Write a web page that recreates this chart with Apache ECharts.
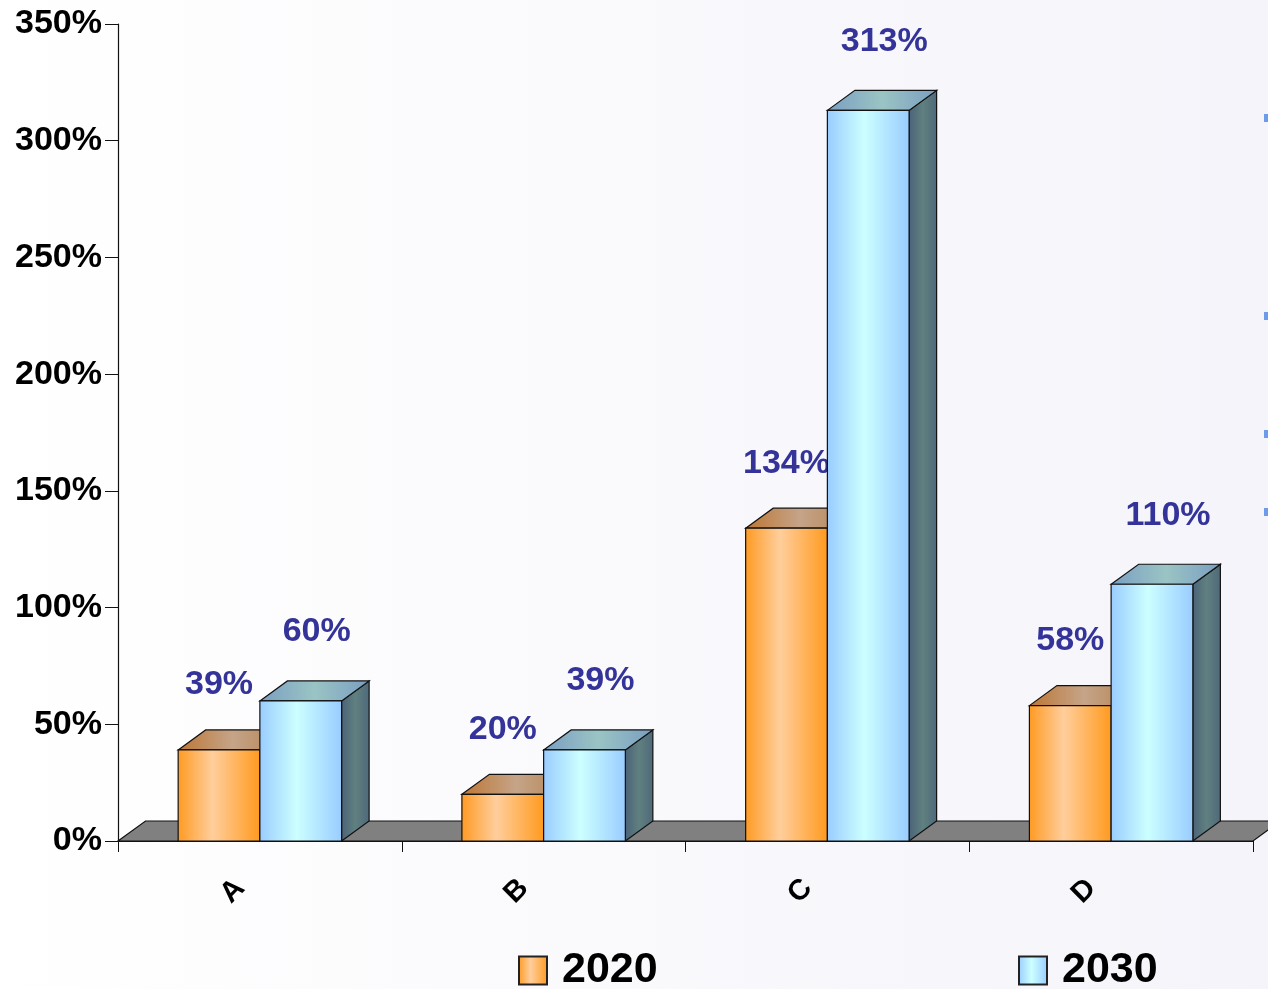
<!DOCTYPE html>
<html><head><meta charset="utf-8">
<script src="https://cdn.jsdelivr.net/npm/echarts@6/dist/echarts.min.js"></script>
<style>html,body{margin:0;padding:0;}#c{width:1268px;height:989px;}</style>
</head><body><div id="c"></div>
<script>
var categories = ['A', 'B', 'C', 'D'];
var values2020 = [39, 20, 134, 58];
var values2030 = [60, 39, 313, 110];
var seriesNames = ['2020', '2030'];
var yMin = 0, yMax = 350, yStep = 50;

var FONT = '"Liberation Sans", Arial, sans-serif';
function lg(stops) {
  return {type: 'linear', x: 0, y: 0, x2: 1, y2: 0,
    colorStops: stops.map(function (s) { return {offset: s[0], color: s[1]}; })};
}
var styles = {
  '2020': {
    front: lg([[0, '#FF9A22'], [0.42, '#FFCE9C'], [1, '#FF9A1E']]),
    top: lg([[0, '#BD7634'], [0.5, '#C5A488'], [1, '#B5814F']]),
    side: lg([[0, '#8A5A30'], [1, '#9A6A40']])
  },
  '2030': {
    front: lg([[0, '#99CCFF'], [0.45, '#CCFFFF'], [1, '#99CCFF']]),
    top: lg([[0, '#7A9EC2'], [0.5, '#9AC4C4'], [1, '#7A9EC2']]),
    side: lg([[0, '#4A6278'], [0.5, '#608080'], [1, '#4E687A']])
  }
};

function makeRender(name, left, ldx, ldy) {
  var st = styles[name];
  return function (params, api) {
    var c = api.value(0), v = api.value(1);
    var base = api.coord([c, 0]);
    var top = api.coord([c, v]);
    var band = api.size([1, 0])[0];
    var w = band * 0.288;
    var dx = band * 0.097, dy = 20;
    var x0 = left ? base[0] - w : base[0];
    var x1 = x0 + w;
    var yb = base[1], yt = top[1];
    var line = {stroke: '#111', lineWidth: 1.2};
    return {
      type: 'group',
      children: [
        {type: 'polygon', shape: {points: [[x1, yb], [x1 + dx, yb - dy], [x1 + dx, yt - dy], [x1, yt]]},
          style: Object.assign({fill: st.side}, line)},
        {type: 'polygon', shape: {points: [[x0, yt], [x0 + dx, yt - dy], [x1 + dx, yt - dy], [x1, yt]]},
          style: Object.assign({fill: st.top}, line)},
        {type: 'rect', shape: {x: x0, y: yt, width: w, height: yb - yt},
          style: Object.assign({fill: st.front}, line)},
        {type: 'text', x: (x0 + x1) / 2 + ldx, y: yt + ldy,
          style: {text: v + '%', fill: '#333399', font: 'bold 34px ' + FONT, align: 'center', verticalAlign: 'middle'}}
      ]
    };
  };
}

function floorRender(params, api) {
  var band = api.size([1, 0])[0];
  var first = api.coord([0, 0]);
  var last = api.coord([categories.length - 1, 0]);
  var xa = first[0] - band / 2, xb = last[0] + band / 2, y = first[1];
  var dx = band * 0.097, dy = 20;
  return {type: 'polygon', shape: {points: [[xa, y], [xa + dx, y - dy], [xb + dx, y - dy], [xb, y]]},
    style: {fill: '#808080', stroke: '#111', lineWidth: 1.2}};
}

var chart = echarts.init(document.getElementById('c'), null, {renderer: 'canvas'});
chart.setOption({
  animation: false,
  backgroundColor: {type: 'linear', x: 0, y: 0, x2: 1, y2: 0,
    colorStops: [{offset: 0, color: '#FFFFFF'}, {offset: 1, color: '#F4F4FA'}]},
  grid: {left: 118, right: 15, top: 24, bottom: 148, containLabel: false},
  xAxis: {
    type: 'category', data: categories, boundaryGap: true,
    axisLine: {show: true, lineStyle: {color: '#111', width: 1.2}},
    axisTick: {show: true, length: 11, lineStyle: {color: '#111'}},
    axisLabel: {rotate: 45, margin: 23, padding: [0, 28, 0, 0], color: '#000', fontSize: 29, fontWeight: 'bold', fontFamily: FONT},
    z: 1
  },
  yAxis: {
    type: 'value', min: yMin, max: yMax, interval: yStep,
    axisLine: {show: true, lineStyle: {color: '#111', width: 1.2}},
    axisTick: {show: true, length: 13, lineStyle: {color: '#111'}},
    splitLine: {show: false},
    axisLabel: {formatter: '{value}%', margin: 16, color: '#000', fontSize: 34, fontWeight: 'bold', fontFamily: FONT}
  },
  legend: [
    {data: ['2020'], left: 518, top: 949, padding: 0, itemWidth: 28, itemHeight: 28, icon: 'rect',
      textStyle: {fontSize: 43, fontWeight: 'bold', color: '#000', fontFamily: FONT, padding: [0, 0, 0, 10]}},
    {data: ['2030'], left: 1018, top: 949, padding: 0, itemWidth: 28, itemHeight: 28, icon: 'rect',
      textStyle: {fontSize: 43, fontWeight: 'bold', color: '#000', fontFamily: FONT, padding: [0, 0, 0, 10]}}
  ],
  series: [
    {type: 'custom', name: 'floor', renderItem: floorRender, data: [[0, 0]], z: 1, silent: true},
    {type: 'custom', name: '2020', renderItem: makeRender('2020', true, 0, -65),
      data: values2020.map(function (v, i) { return [i, v]; }), z: 2,
      itemStyle: {color: styles['2020'].front, borderColor: '#222', borderWidth: 1}},
    {type: 'custom', name: '2030', renderItem: makeRender('2030', false, 16, -69),
      data: values2030.map(function (v, i) { return [i, v]; }), z: 3,
      itemStyle: {color: styles['2030'].front, borderColor: '#222', borderWidth: 1}}
  ],
  graphic: [
    {type: 'rect', right: 0, top: 114, shape: {width: 4, height: 8}, style: {fill: '#6C9BEA'}},
    {type: 'rect', right: 0, top: 312, shape: {width: 4, height: 8}, style: {fill: '#6C9BEA'}},
    {type: 'rect', right: 0, top: 430, shape: {width: 4, height: 8}, style: {fill: '#6C9BEA'}},
    {type: 'rect', right: 0, top: 508, shape: {width: 4, height: 8}, style: {fill: '#6C9BEA'}}
  ]
});
</script></body></html>
